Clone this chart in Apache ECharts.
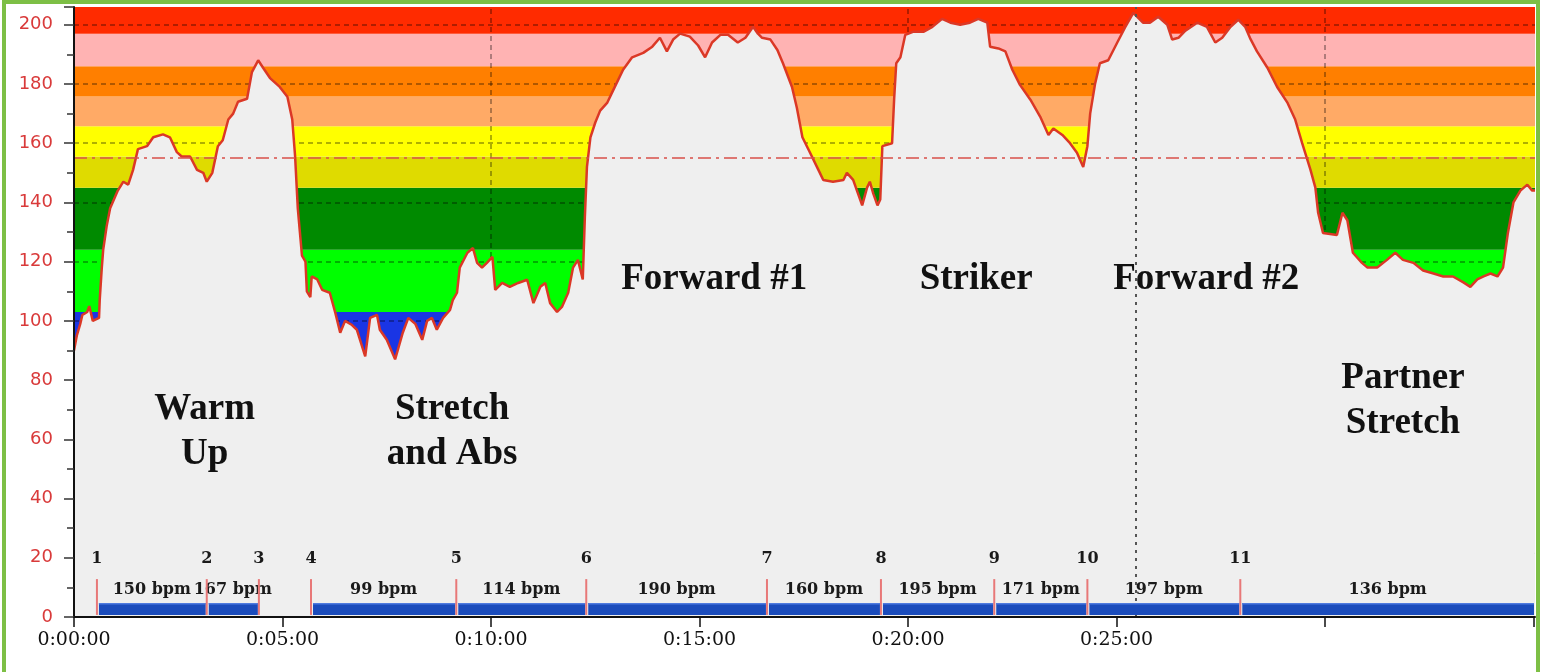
<!DOCTYPE html>
<html>
<head>
<meta charset="utf-8">
<script src="https://cdn.jsdelivr.net/npm/echarts@6/dist/echarts.min.js"></script>
<style>
  html, body { margin: 0; padding: 0; background: #ffffff; }
  #chart { position: absolute; left: 0; top: 0; width: 1541px; height: 672px; }
  #frame { position: absolute; left: 2px; top: 0; width: 1530px; height: 668px;
           border-top: 4px solid #7DBF45; border-left: 4px solid #7DBF45; border-right: 4px solid #7DBF45;
           pointer-events: none; }
</style>
</head>
<body>
<div id="chart"></div>
<div id="frame"></div>
<script>
// ---- Heart rate trace (seconds from start, bpm) ----
const hrTime = [0,4,9,12,19,22,27,36,37,40,42,47,52,63,71,78,85,92,105,114,128,138,148,155,167,177,186,191,199,207,214,222,229,236,249,256,265,272,282,296,307,314,318,322,325,328,333,335,340,342,350,357,368,376,383,390,400,407,419,426,436,440,450,462,473,481,491,501,508,515,522,531,541,545,551,555,566,574,580,587,594,602,606,616,627,639,652,661,671,678,685,695,702,711,718,725,732,735,738,743,750,757,767,776,790,803,819,832,843,853,862,872,886,898,908,918,930,941,955,966,977,984,990,1002,1012,1020,1033,1040,1048,1059,1071,1078,1092,1107,1112,1121,1128,1134,1141,1145,1150,1156,1160,1163,1177,1180,1183,1189,1196,1207,1222,1235,1249,1261,1275,1289,1301,1314,1318,1330,1340,1350,1361,1376,1390,1402,1409,1422,1433,1443,1452,1458,1462,1469,1476,1488,1501,1512,1524,1538,1548,1560,1573,1580,1589,1599,1616,1630,1642,1652,1664,1675,1685,1692,1702,1717,1731,1746,1757,1767,1779,1786,1790,1797,1817,1825,1832,1840,1853,1861,1875,1889,1901,1912,1927,1941,1956,1970,1984,1999,2009,2019,2028,2038,2048,2056,2063,2071,2081,2091,2098,2102];
const hrBpm = [90,95,99,102,103,105,100,101,107,118,124,132,138,144,147,146,151,158,159,162,163,162,157,155.5,155.5,151,150,147,150,159,161,168,170,174,175,184,188,185.5,182,179,175.7,168,156,138,130,122,120,110,108,115,114,110.5,109.5,102.7,96,100,98.6,97,88,101,102,97,93.6,87,96,101,99,93.6,100,101,97,101,103.7,107,109.5,118,123,124.6,119.6,118,119.6,121.6,110.5,112.8,111.5,112.8,113.9,106,111.5,112.8,106,103,104.7,109.5,118,120.6,114,135,152,162,167,171,173.6,178,184.8,189,190.5,192.6,195.6,191,195,197,196,193,189,194,196.6,196.6,194,195.6,199.3,197,195.6,195,191.5,187,179,172,162,156.8,151,147.6,147,147.6,150,147.6,143,139,145,147,143,139,141,159,160,175,187,189,196.6,197.6,197.6,199.3,202,200.7,200,200.7,202,200.7,192.6,192,191,184.8,179.7,174.7,169,162.8,165,162.8,160,156.8,152,159,170,180,187,188,194,199,204,200.7,200.7,202.7,200,195,195.6,198,200.7,199.3,194,195.6,199.3,201.7,199.3,195.5,191,185.5,179,173.6,168,160,151,145,136.5,129.7,129,136.5,134,123,119.6,118,118,120.6,123,120.6,119.6,117,116,115,115,113,111.5,114,115,116,115,118,129.7,140,144,146,144,144];

// ---- Heart-rate zones (bpm bounds) ----
const zoneLow  = [0, 103, 124, 145, 155.5, 165.7, 175.8, 186, 197];
const zoneHigh = [103, 124, 145, 155.5, 165.7, 175.8, 186, 197, 206];
const zoneColors = ['#1A35E4', '#00FF00', '#008A00', '#DFDB00', '#FFFF00', '#FFAA66', '#FF7F00', '#FFB3B3', '#FF2B00'];

// ---- Reference values ----
const thresholdBpm = 155;
const cursorTime = 1528;

// ---- Laps ----
const lapNames = ['1','2','3','4','5','6','7','8','9','10','11','12'];
const lapStart = [33,191,266,341,550,737,997,1161,1324,1458,1678,2102];
const lapAvg   = [150,167,null,99,114,190,160,195,171,197,136];

// ---- Activity annotations ----
const noteText = ['Warm\nUp', 'Stretch\nand Abs', 'Forward #1', 'Striker', 'Forward #2', 'Partner\nStretch'];
const noteTime = [188, 544, 921, 1298, 1629, 1912];
const noteBpm  = [62.5, 62.5, 114, 114, 114, 73];

// ---- Axis ----
const xMax = 2102, yMax = 206;

const hrData = hrTime.map((t, i) => [t, hrBpm[i]]);
function pad(n) { return (n < 10 ? '0' : '') + n; }
function fmtTime(v) {
  if (v % 300 !== 0 || v >= 1800) return '';
  const h = Math.floor(v / 3600), m = Math.floor((v % 3600) / 60), s = v % 60;
  return h + ':' + pad(m) + ':' + pad(s);
}

const gridLines = [];
for (let v = 20; v <= 200; v += 20) gridLines.push({ yAxis: v });
for (let t = 600; t < xMax; t += 600) gridLines.push({ xAxis: t });

const chart = echarts.init(document.getElementById('chart'), null, { renderer: 'canvas' });
chart.setOption({
  animation: false,
  backgroundColor: '#ffffff',
  grid: { left: 74, right: 6, top: 7, bottom: 55, containLabel: false },
  xAxis: {
    type: 'value', min: 0, max: xMax, interval: 300, z: 10,
    axisLine: { show: true, lineStyle: { color: '#111', width: 2 } },
    axisTick: { show: true, length: 10, lineStyle: { color: '#111', width: 1.5 } },
    axisLabel: { formatter: fmtTime, fontFamily: 'DejaVu Serif', fontSize: 19, color: '#111', margin: 14,
                 showMaxLabel: false },
    splitLine: { show: false }
  },
  yAxis: {
    type: 'value', min: 0, max: yMax, interval: 20, z: 10,
    axisLine: { show: true, lineStyle: { color: '#111', width: 2 } },
    axisTick: { show: true, length: 10, lineStyle: { color: '#333', width: 1.5 } },
    minorTick: { show: true, splitNumber: 2, length: 7, lineStyle: { color: '#333', width: 1.5 } },
    axisLabel: { formatter: v => (v % 20 === 0 ? String(v) : ''), fontFamily: 'DejaVu Sans', fontSize: 18,
                 color: '#D93A3A', margin: 21, showMaxLabel: false },
    splitLine: { show: false }
  },
  series: [
    {
      name: 'zones', type: 'line', data: hrData, z: 1, silent: true,
      showSymbol: false, symbol: 'none', lineStyle: { opacity: 0 },
      markArea: {
        silent: true, z: 1,
        data: zoneLow.map((lo, i) => [
          { yAxis: lo, itemStyle: { color: zoneColors[i], opacity: 1 } },
          { yAxis: zoneHigh[i] }
        ])
      },
      markLine: {
        silent: true, z: 2, symbol: ['none', 'none'], label: { show: false },
        lineStyle: { type: [5, 4], color: 'rgba(0,0,0,0.42)', width: 1.5 },
        data: gridLines
      }
    },
    {
      name: 'hr', type: 'line', data: hrData, z: 3, silent: true,
      showSymbol: false, symbol: 'none',
      lineStyle: { color: '#DB3826', width: 2.5 },
      areaStyle: { color: '#EFEFEF', opacity: 1 },
      markLine: {
        silent: true, z: 6, symbol: ['none', 'none'], label: { show: false },
        data: [
          { yAxis: thresholdBpm, lineStyle: { color: '#D9504A', type: [13, 5, 3, 5], width: 1.5 } },
          { xAxis: cursorTime, lineStyle: { color: '#555', type: [3, 5], width: 2 } }
        ]
      }
    },
    {
      name: 'laps', type: 'custom', z: 7, clip: true, silent: true,
      data: lapStart.map((s, i) => [s, i + 1 < lapStart.length ? lapStart[i + 1] : s, i]),
      renderItem: function (params, api) {
        const i = params.dataIndex;
        const start = lapStart[i];
        const children = [];
        const last = i === lapStart.length - 1;
        if (!last && lapAvg[i] !== null && lapAvg[i] !== undefined) {
          const end = lapStart[i + 1];
          const a = api.coord([start, 4.7]);
          const b = api.coord([end, 0.7]);
          children.push({ type: 'rect', shape: { x: a[0] + 2, y: a[1], width: b[0] - a[0] - 3, height: b[1] - a[1] },
                          style: { fill: '#1B4CBC' } });
          children.push({ type: 'rect', shape: { x: a[0] + 2, y: a[1], width: b[0] - a[0] - 3, height: 1.5 },
                          style: { fill: '#4F7BE0' } });
          const c = api.coord([(start + end) / 2, 9.2]);
          children.push({ type: 'text', x: c[0], y: c[1],
                          style: { text: lapAvg[i] + ' bpm', fill: '#1a1a1a', font: 'bold 16px "DejaVu Serif"',
                                   align: 'center', verticalAlign: 'middle' } });
        }
        if (!last) {
          const p = api.coord([start, 0.7]);
          const q = api.coord([start, 12.8]);
          children.push({ type: 'line', shape: { x1: p[0], y1: p[1], x2: q[0], y2: q[1] },
                          style: { stroke: '#E87878', lineWidth: 2 } });
        }
        const n = api.coord([start, 19.6]);
        children.push({ type: 'text', x: last ? n[0] - 2 : n[0], y: n[1],
                        style: { text: lapNames[i], fill: '#1a1a1a', font: 'bold 16px "DejaVu Serif"',
                                 align: last ? 'left' : 'center', verticalAlign: 'middle' } });
        return { type: 'group', children: children };
      }
    },
    {
      name: 'notes', type: 'custom', z: 8, silent: true,
      data: noteTime.map((t, i) => [t, noteBpm[i], i]),
      renderItem: function (params, api) {
        const i = params.dataIndex;
        const p = api.coord([noteTime[i], noteBpm[i]]);
        return { type: 'text', x: p[0], y: p[1],
                 style: { text: noteText[i], fill: '#111', font: 'bold 37px "Liberation Serif"',
                          lineHeight: 45, align: 'center', verticalAlign: 'middle' } };
      }
    }
  ]
});
</script>
</body>
</html>
